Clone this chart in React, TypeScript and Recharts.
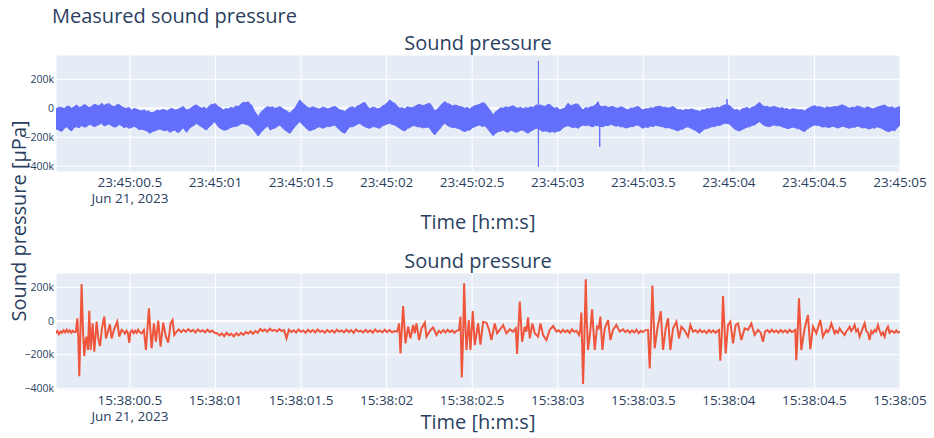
import React from 'react';
import {
  ComposedChart,
  Area,
  Line,
  XAxis,
  YAxis,
  CartesianGrid,
} from 'recharts';

const TEXT = '#2a3f5f';
const FONT = '"Open Sans", verdana, arial, sans-serif';
const BLUE = '#636EFA';
const RED = '#EF553B';
const PLOT_BG = '#E5ECF6';

// Recording 1 (23:45:xx): dense signal, stored as an envelope per time slot.
// [seconds after 23:45:00, upper edge (kµPa), lower edge (kµPa)]
const recording1Envelope: [number, number, number][] = [
  [0.068, -5, -143], [0.084, 8, -150], [0.1009, 5, -161], [0.1155, -2, -140], [0.1301, 12, -127],
  [0.1447, 15, -146], [0.1593, 0, -156], [0.1739, 10, -132], [0.1885, 23, -127], [0.2031, 6, -135],
  [0.2177, 12, -120], [0.2323, 26, -130], [0.2469, 18, -127], [0.2615, 5, -112], [0.2761, 12, -115],
  [0.2907, 28, -128], [0.3053, 23, -120], [0.3199, 16, -112], [0.3345, 35, -104], [0.3491, 20, -122],
  [0.3637, 28, -115], [0.3783, 32, -108], [0.3929, 18, -120], [0.4075, 10, -130], [0.4221, 23, -127],
  [0.4367, 26, -112], [0.4513, 12, -120], [0.4659, 2, -134], [0.4805, 0, -127], [0.4951, 5, -138],
  [0.5097, -12, -133], [0.5243, -2, -124], [0.539, -5, -133], [0.5536, -14, -148], [0.5682, -18, -143],
  [0.5828, -10, -150], [0.5974, -23, -156], [0.6071, -16, -165], [0.6168, -28, -173], [0.6314, -30, -160],
  [0.646, -23, -156], [0.6606, -12, -148], [0.6752, -18, -143], [0.6898, -8, -150], [0.7044, -12, -156],
  [0.719, -18, -150], [0.7336, -5, -166], [0.7482, -2, -156], [0.7628, -12, -150], [0.7775, -8, -168],
  [0.7921, 0, -161], [0.8018, 6, -145], [0.8115, 12, -133], [0.8213, 0, -152], [0.831, -12, -166],
  [0.8456, -6, -142], [0.8602, 5, -127], [0.8748, 18, -118], [0.8894, 23, -104], [0.904, 10, -118],
  [0.9186, 0, -127], [0.9332, 8, -140], [0.9478, -5, -150], [0.9624, 14, -128], [0.977, 28, -115],
  [0.9868, 24, -100], [0.9965, 35, -92], [1.0063, 22, -112], [1.016, 12, -127], [1.0306, 2, -140],
  [1.0452, -12, -150], [1.0598, -2, -150], [1.0744, -5, -143], [1.089, 6, -132], [1.1036, 0, -127],
  [1.1182, 16, -125], [1.1328, 12, -120], [1.1474, 28, -108], [1.162, 41, -104], [1.1766, 38, -112],
  [1.1912, 46, -115], [1.201, 30, -126], [1.2107, 23, -133], [1.2204, 0, -148], [1.2301, -23, -161],
  [1.2399, -40, -176], [1.2496, -58, -191], [1.2642, -30, -168], [1.2788, -12, -150], [1.2934, 4, -132],
  [1.308, 12, -120],
  [1.3178, 5, -150], [1.3324, 10, -142], [1.347, 0, -138], [1.3616, 4, -125], [1.3762, 12, -115],
  [1.3908, 0, -135], [1.4054, -12, -150], [1.42, -20, -162], [1.4346, -35, -173], [1.4492, -14, -150],
  [1.4638, 0, -127], [1.4784, 30, -108], [1.493, 58, -92], [1.5076, 36, -112], [1.5222, 23, -127],
  [1.5368, 8, -145], [1.5514, 0, -156], [1.566, 10, -148], [1.5806, 5, -143], [1.5952, -2, -132],
  [1.6098, -5, -127], [1.6244, 8, -138], [1.639, 5, -133], [1.6536, -4, -124], [1.6682, 0, -127],
  [1.6828, 8, -120], [1.6974, 12, -115], [1.712, 2, -135], [1.7266, -12, -150], [1.7412, -14, -165],
  [1.7558, -23, -173], [1.7704, -6, -148], [1.785, 5, -127], [1.7997, 10, -128], [1.8143, 0, -120],
  [1.8289, 16, -110], [1.8435, 23, -104], [1.8581, 34, -118], [1.8727, 41, -127], [1.8873, 14, -134],
  [1.9019, -5, -138], [1.9165, 8, -128], [1.9311, 5, -127], [1.9457, -4, -134], [1.9603, 0, -138],
  [1.9749, 14, -122], [1.9895, 23, -115], [2.0041, 40, -108], [2.0187, 58, -104], [2.0333, 42, -112],
  [2.0479, 35, -115], [2.0625, 14, -128], [2.0771, 0, -138], [2.0917, 4, -150], [2.1063, -5, -156],
  [2.1209, 10, -140], [2.1355, 5, -133], [2.1501, 4, -122], [2.1647, 12, -120], [2.1793, 22, -128],
  [2.1939, 28, -127], [2.2085, 18, -135], [2.2231, 23, -133], [2.2377, 30, -130], [2.2523, 35, -138],
  [2.2669, 10, -164], [2.2815, -18, -184], [2.2961, -6, -160], [2.3107, 12, -143], [2.3253, 32, -118],
  [2.3399, 46, -104], [2.3546, 34, -118], [2.3692, 28, -127], [2.3838, 16, -132], [2.3984, 23, -133],
  [2.413, 18, -138], [2.4276, 12, -143], [2.4422, 8, -155], [2.4568, 0, -161], [2.4714, 6, -152],
  [2.486, -5, -150], [2.5006, 8, -135], [2.5152, 18, -127], [2.5298, 22, -120],
  [2.5444, 28, -115], [2.559, 38, -126], [2.5736, 35, -120], [2.5882, 12, -140], [2.6028, -12, -161],
  [2.6126, -28, -176], [2.6223, -46, -189], [2.6369, -24, -172], [2.6515, -12, -161], [2.6661, 4, -158],
  [2.6807, 0, -150], [2.6953, 10, -160], [2.7099, 5, -166], [2.7245, 12, -152], [2.7391, 18, -156],
  [2.7537, 6, -166], [2.7683, 0, -161], [2.7829, 8, -152], [2.7975, -5, -150], [2.8121, 6, -164],
  [2.8267, 0, -173], [2.8413, 10, -158], [2.8559, 5, -150], [2.8657, 16, -142], [2.8754, 23, -138],
  [2.8862, 20, -140], [2.8871, 327, -403], [2.888, 20, -140], [2.8988, 23, -150], [2.9115, 18, -160],
  [2.9241, 12, -156], [2.9387, 24, -158], [2.9533, 28, -166], [2.9679, 10, -160], [2.9825, 0, -166],
  [2.9971, 6, -158], [3.0117, -12, -156], [3.0263, -4, -140], [3.0409, 0, -127], [3.0507, 20, -124],
  [3.0604, 35, -120], [3.075, 18, -128], [3.0896, 23, -133], [3.1042, 30, -130], [3.1188, 28, -138],
  [3.1334, 6, -124], [3.148, -12, -115], [3.1626, 6, -120], [3.1772, 0, -115], [3.1918, 10, -124],
  [3.2064, 12, -127], [3.221, 24, -118], [3.2356, 46, -120], [3.2444, 15, -125], [3.2453, 15, -265],
  [3.2462, 15, -125], [3.2648, 12, -127], [3.2794, 16, -118], [3.294, 5, -120], [3.3086, 10, -112],
  [3.3232, 12, -115], [3.3378, 4, -124], [3.3524, 0, -120], [3.367, 10, -128], [3.3816, 5, -127],
  [3.3962, -4, -136], [3.4108, -12, -133], [3.4254, 2, -126], [3.44, 0, -127], [3.4546, 8, -118],
  [3.4692, 12, -115], [3.4838, 0, -128], [3.4984, -12, -138], [3.513, -2, -128], [3.5276, -5, -133],
  [3.5422, 4, -122], [3.5568, 0, -127], [3.5714, 10, -118], [3.586, 12, -120], [3.6006, 14, -126],
  [3.6152, 5, -127], [3.6298, 8, -136], [3.6444, 0, -133], [3.659, 6, -138], [3.6736, 12, -143],
  [3.6882, 0, -150], [3.7028, -12, -156], [3.7175, -8, -146], [3.7321, -18, -143], [3.7467, -6, -132],
  [3.7613, -12, -127], [3.7808, -4, -140],
  [3.8002, -12, -150], [3.8148, -16, -162], [3.8294, -23, -173], [3.844, -10, -156], [3.8586, -12, -143],
  [3.8733, -2, -140], [3.8879, -5, -133], [3.9025, 4, -126], [3.9171, 0, -127], [3.9317, 8, -118],
  [3.9463, 5, -120], [3.9609, 16, -110], [3.9755, 23, -104], [3.9882, 25, -104], [3.9891, 64, -104],
  [3.99, 25, -104], [4.0047, 18, -110], [4.0193, 2, -128], [4.0339, -12, -143], [4.0485, -8, -152],
  [4.0631, -18, -156], [4.0777, -4, -146], [4.0923, 0, -138], [4.1069, 6, -130], [4.1215, -5, -127],
  [4.1361, 8, -118], [4.1507, 12, -115], [4.1653, 28, -102], [4.1799, 41, -92], [4.1945, 20, -108],
  [4.2091, 12, -120], [4.2237, 14, -124], [4.2383, 5, -127], [4.2529, 10, -118], [4.2675, 12, -115],
  [4.2821, 6, -122], [4.2967, 0, -120], [4.3113, 4, -128], [4.3259, -5, -133], [4.3405, -2, -140],
  [4.3551, -12, -138], [4.3697, -4, -130], [4.3843, -5, -133], [4.399, -8, -140], [4.4136, -12, -143],
  [4.4282, -10, -154], [4.4428, -18, -161], [4.4574, -4, -144], [4.472, 5, -133], [4.4866, 12, -122],
  [4.5012, 18, -115], [4.5158, 8, -118], [4.5304, 12, -120], [4.545, 6, -130], [4.5596, 0, -127],
  [4.5742, 10, -130], [4.5888, 5, -133], [4.6034, 8, -124], [4.618, 12, -127], [4.6326, 10, -136],
  [4.6472, 18, -133], [4.6618, 24, -124], [4.6764, 18, -127], [4.691, 8, -134], [4.7056, 0, -138],
  [4.7202, 8, -130], [4.7348, 5, -133], [4.7494, 16, -122], [4.764, 12, -127], [4.7786, 4, -136],
  [4.7932, 0, -133], [4.8078, 10, -138], [4.8224, 5, -143], [4.837, -4, -134], [4.8516, 0, -138],
  [4.8662, 8, -128], [4.8808, 12, -133], [4.8954, 18, -140], [4.91, 23, -150], [4.9247, 10, -158],
  [4.9393, 5, -161], [4.9539, 10, -150], [4.9685, 0, -156], [4.9842, 6, -134], [5.0, 12, -115],
];

// Recording 2 (15:38:xx): [seconds after 15:38:00, pressure (kµPa)]
const recording2Samples: [number, number][] = [
  [0.068, -72], [0.076, -60], [0.085, -78], [0.094, -62], [0.103, -70], [0.112, -55], [0.121, -68],
  [0.13, -52], [0.139, -66], [0.148, -56], [0.157, -70], [0.166, -58], [0.175, -66],
  [0.1846, -63], [0.1924, 16], [0.1982, -93], [0.2041, -327], [0.2099, -93], [0.2177, 220], [0.2255, -53],
  [0.2333, -208], [0.2411, -113], [0.2469, -93], [0.2547, -172], [0.2625, 61], [0.2703, -172], [0.2819, -14],
  [0.2917, -182], [0.3053, -4], [0.315, -103], [0.3248, -149], [0.3364, -44], [0.3501, 26], [0.3598, -103],
  [0.3715, -63], [0.3832, -20], [0.3929, -103], [0.4065, -53], [0.426, -4], [0.4377, -93], [0.4513, -53],
  [0.462, -62], [0.471, -75], [0.48, -58], [0.488, -70], [0.496, -129], [0.503, -65], [0.512, -55],
  [0.521, -72], [0.53, -58], [0.539, -70], [0.548, -52], [0.557, -66],
  [0.5681, -73], [0.5818, -53], [0.5935, -172], [0.611, 75], [0.6265, -162], [0.6402, -14], [0.6519, -123],
  [0.6655, 2], [0.6791, -152], [0.6947, -10], [0.7103, -93], [0.7239, -129], [0.7375, -14], [0.7492, 6],
  [0.759, -83], [0.7726, -63],
  [0.785, -50], [0.799, -66], [0.813, -52], [0.827, -64], [0.841, -48], [0.855, -62], [0.869, -54],
  [0.883, -68], [0.897, -50], [0.911, -63], [0.925, -55], [0.939, -67], [0.953, -52], [0.967, -65],
  [0.981, -58], [0.995, -70], [1.009, -72], [1.023, -86], [1.037, -74], [1.051, -90], [1.065, -70],
  [1.079, -84], [1.093, -76], [1.107, -92], [1.121, -72], [1.135, -85], [1.149, -70], [1.163, -82],
  [1.177, -66], [1.191, -74], [1.205, -62], [1.219, -76], [1.233, -60], [1.247, -70], [1.261, -48],
  [1.275, -60], [1.289, -50], [1.303, -64], [1.317, -46], [1.331, -58], [1.345, -52], [1.359, -62],
  [1.373, -48], [1.387, -60], [1.401, -54], [1.415, -103], [1.429, -52], [1.443, -66], [1.457, -55],
  [1.471, -68], [1.485, -50], [1.499, -64], [1.513, -56], [1.527, -70], [1.541, -52], [1.555, -66],
  [1.569, -54], [1.583, -68], [1.597, -50], [1.611, -65], [1.625, -57], [1.639, -70], [1.653, -53],
  [1.667, -66], [1.681, -55], [1.695, -69], [1.709, -51], [1.723, -64], [1.737, -56], [1.751, -68],
  [1.765, -52], [1.779, -66], [1.793, -54], [1.807, -70], [1.821, -50], [1.835, -63], [1.849, -57],
  [1.863, -68], [1.877, -53], [1.891, -66], [1.905, -55], [1.919, -69], [1.933, -51], [1.947, -65],
  [1.961, -56], [1.975, -68], [1.989, -52], [2.003, -66], [2.017, -54], [2.031, -67], [2.045, -60],
  [2.0615, -63], [2.0732, -14], [2.081, -192], [2.0965, 89], [2.1102, -133], [2.1257, -34], [2.1394, -103],
  [2.155, -24], [2.1647, -73], [2.1744, -14], [2.1899, -113], [2.2036, -44], [2.2231, -10], [2.2329, -93],
  [2.2524, -59], [2.2718, -38], [2.2913, -83],
  [2.305, -58], [2.318, -70], [2.331, -54], [2.344, -68], [2.357, -52], [2.37, -66], [2.383, -56],
  [2.396, -70], [2.409, -58],
  [2.4237, -53], [2.4315, 26], [2.4393, -335], [2.4471, -93], [2.4529, 224], [2.4607, -34], [2.4666, -172],
  [2.4802, 6], [2.49, -172], [2.5036, 59], [2.5152, -143], [2.5347, -14], [2.5483, -140], [2.5639, -4],
  [2.5833, -10], [2.5989, -53], [2.6125, -113], [2.632, -14], [2.6456, -73], [2.6612, -53], [2.6807, -24],
  [2.7002, -73], [2.7196, -50], [2.7391, -63], [2.7547, -44],
  [2.7625, -196], [2.778, 115], [2.7917, -123], [2.8073, -34], [2.817, -63], [2.8267, 22], [2.8365, -103],
  [2.852, -14], [2.8657, -73], [2.8851, -93], [2.8988, -14], [2.9143, -83], [2.9338, -113], [2.9533, -53],
  [2.9727, -30], [2.9922, -63],
  [3.005, -55], [3.018, -68], [3.031, -52], [3.044, -66], [3.057, -56], [3.07, -70], [3.083, -50],
  [3.096, -64], [3.109, -58], [3.1246, -83],
  [3.1324, -44], [3.1382, 50], [3.148, -374], [3.1558, -93], [3.1636, 248], [3.1694, 6], [3.1772, -172],
  [3.1889, -73], [3.2006, 69], [3.2161, -172], [3.2297, -34], [3.2395, -44], [3.2492, 26], [3.2609, -172],
  [3.2745, -44], [3.294, 6], [3.3076, -113], [3.3232, -53], [3.3427, -24], [3.3622, -63], [3.3816, -50],
  [3.395, -66], [3.408, -54], [3.421, -70], [3.434, -56], [3.447, -68], [3.46, -52], [3.473, -72],
  [3.486, -58], [3.499, -66], [3.512, -54],
  [3.5277, -53], [3.5374, -281], [3.5452, -53], [3.553, 210], [3.5666, -162], [3.5822, -44], [3.6017, 59],
  [3.6153, -172], [3.6309, -44], [3.6445, 16], [3.6581, -172], [3.6737, -44], [3.6932, -4], [3.7087, -103],
  [3.7224, -34], [3.7418, -57], [3.7613, -93], [3.7749, -24], [3.7905, -63],
  [3.805, -55], [3.818, -68], [3.831, -52], [3.844, -66], [3.857, -58], [3.87, -72], [3.883, -54],
  [3.896, -67], [3.909, -56], [3.922, -70], [3.935, -58],
  [3.9424, -53], [3.9502, -236], [3.958, -93], [3.9658, 149], [3.9813, -192], [3.995, -24], [4.0086, -4],
  [4.0242, -133], [4.0397, -24], [4.0534, -14], [4.0728, -113], [4.0923, -44], [4.1118, -53], [4.1313, -14],
  [4.1507, -83], [4.1702, -53], [4.1857, -69], [4.1994, -123], [4.2111, -63],
  [4.225, -54], [4.238, -68], [4.251, -52], [4.264, -66], [4.277, -57], [4.29, -70], [4.303, -53],
  [4.316, -67], [4.329, -55], [4.342, -69], [4.355, -52], [4.368, -65], [4.381, -58],
  [4.3883, -53], [4.3941, -232], [4.4019, -73], [4.4097, 135], [4.4233, -172], [4.4428, -44], [4.4623, 36],
  [4.4759, -168], [4.4915, -34], [4.511, -73], [4.5343, 6], [4.5499, -93], [4.5694, -53], [4.578, -66],
  [4.588, -50], [4.5986, -14], [4.618, -73], [4.627, -58], [4.637, -70], [4.6472, -44], [4.657, -60],
  [4.667, -72], [4.6764, -83], [4.686, -62], [4.696, -50], [4.7056, -34], [4.715, -60], [4.725, -45],
  [4.7348, -24], [4.744, -62], [4.754, -50], [4.764, -93], [4.7933, -14], [4.803, -60], [4.813, -70],
  [4.8225, -113], [4.832, -60], [4.842, -72], [4.8517, -53], [4.861, -62], [4.8711, -24], [4.881, -58],
  [4.8906, -83], [4.9, -68], [4.9101, -93], [4.919, -55], [4.9295, -34], [4.939, -70], [4.949, -58],
  [4.9587, -63], [4.968, -70], [4.978, -56], [4.988, -68], [5.0, -63],
];

const timeTicks = [0.5, 1, 1.5, 2, 2.5, 3, 3.5, 4, 4.5, 5];
const pressureTicks = [-400000, -200000, 0, 200000];
const recordingDate = 'Jun 21, 2023';
const zeroTickIndex = pressureTicks.indexOf(0);

const upperData = recording1Envelope.map(([t, hi, lo]) => ({ t, band: [lo * 1000, hi * 1000] }));
const lowerData = recording2Samples.map(([t, v]) => ({ t, p: v * 1000 }));

const formatPressure = (v: number) => {
  if (v === 0) return '0';
  const k = Math.abs(v) / 1000;
  return `${v < 0 ? '\u2212' : ''}${k}k`;
};

const formatSeconds = (t: number) => {
  const whole = Math.floor(t + 1e-9);
  const tenth = Math.round((t - whole) * 10);
  return `${String(whole).padStart(2, '0')}${tenth ? '.' + tenth : ''}`;
};

const TimeTick = (props: any) => {
  const { x, y, payload, clock } = props;
  const isFirst = Math.abs(payload.value - timeTicks[0]) < 1e-9;
  return (
    <g transform={`translate(${x},${y})`}>
      <text x={0} y={15} textAnchor="middle" fontSize={13.5} fontFamily={FONT} fill={TEXT}>
        {clock + formatSeconds(payload.value)}
      </text>
      {isFirst && (
        <text x={0} y={31} textAnchor="middle" fontSize={13.5} fontFamily={FONT} fill={TEXT}>
          {recordingDate}
        </text>
      )}
    </g>
  );
};

// Horizontal grid lines; the zero line is drawn a little heavier.
const renderHorizontalGrid = (p: any) => (
  <line
    key={`h-${p.index}`}
    x1={p.x1}
    y1={p.y1}
    x2={p.x2}
    y2={p.y2}
    stroke="#fff"
    strokeWidth={p.index === zeroTickIndex ? 2 : 1}
  />
);

const yTickStyle = { fontSize: 10.5, fill: TEXT, fontFamily: FONT };

export default function App() {
  return (
    <div
      style={{
        position: 'absolute',
        left: 0,
        top: 0,
        width: 934,
        height: 438,
        background: '#fff',
        fontFamily: FONT,
        overflow: 'hidden',
      }}
    >
      <div style={{ position: 'absolute', left: 0, top: 0 }}>
        <ComposedChart
          width={934}
          height={215}
          data={upperData}
          margin={{ top: 55, right: 34, bottom: 0, left: 0 }}
        >
          <CartesianGrid
            fill={PLOT_BG}
            stroke="#fff"
            strokeWidth={1}
            horizontal={renderHorizontalGrid}
          />
          <XAxis
            dataKey="t"
            type="number"
            domain={[0.068, 5]}
            ticks={timeTicks}
            interval={0}
            allowDataOverflow
            height={43}
            axisLine={false}
            tickLine={false}
            tickSize={0}
            tickMargin={0}
            tick={(p: any) => <TimeTick {...p} clock="23:45:" />}
          />
          <YAxis
            type="number"
            domain={[-440000, 368000]}
            ticks={pressureTicks}
            interval={0}
            allowDataOverflow
            width={56}
            axisLine={false}
            tickLine={false}
            tickSize={0}
            tickMargin={2}
            tick={yTickStyle}
            tickFormatter={formatPressure}
          />
          <Area
            dataKey="band"
            type="linear"
            stroke={BLUE}
            strokeWidth={1}
            fill={BLUE}
            fillOpacity={1}
            dot={false}
            activeDot={false}
            isAnimationActive={false}
          />
        </ComposedChart>
      </div>

      <div style={{ position: 'absolute', left: 0, top: 230 }}>
        <ComposedChart
          width={934}
          height={208}
          data={lowerData}
          margin={{ top: 43, right: 34, bottom: 0, left: 0 }}
        >
          <CartesianGrid
            fill={PLOT_BG}
            stroke="#fff"
            strokeWidth={1}
            horizontal={renderHorizontalGrid}
          />
          <XAxis
            dataKey="t"
            type="number"
            domain={[0.068, 5]}
            ticks={timeTicks}
            interval={0}
            allowDataOverflow
            height={48}
            axisLine={false}
            tickLine={false}
            tickSize={0}
            tickMargin={0}
            tick={(p: any) => <TimeTick {...p} clock="15:38:" />}
          />
          <YAxis
            type="number"
            domain={[-409500, 285000]}
            ticks={pressureTicks}
            interval={0}
            allowDataOverflow
            width={56}
            axisLine={false}
            tickLine={false}
            tickSize={0}
            tickMargin={2}
            tick={yTickStyle}
            tickFormatter={formatPressure}
          />
          <Line
            dataKey="p"
            type="linear"
            stroke={RED}
            strokeWidth={2}
            dot={false}
            activeDot={false}
            isAnimationActive={false}
          />
        </ComposedChart>
      </div>

      <svg
        width={934}
        height={438}
        style={{ position: 'absolute', left: 0, top: 0, pointerEvents: 'none' }}
      >
        <g fontFamily={FONT} fill={TEXT}>
          <text x={52} y={23} fontSize={20}>Measured sound pressure</text>
          <text x={478} y={50} fontSize={20} textAnchor="middle">Sound pressure</text>
          <text x={478} y={268} fontSize={20} textAnchor="middle">Sound pressure</text>
          <text x={478} y={229} fontSize={20} textAnchor="middle">Time [h:m:s]</text>
          <text x={478} y={429} fontSize={20} textAnchor="middle">Time [h:m:s]</text>
          <text
            x={0}
            y={0}
            fontSize={20}
            textAnchor="middle"
            transform="translate(26,221) rotate(-90)"
          >
            Sound pressure [µPa]
          </text>
        </g>
      </svg>
    </div>
  );
}
